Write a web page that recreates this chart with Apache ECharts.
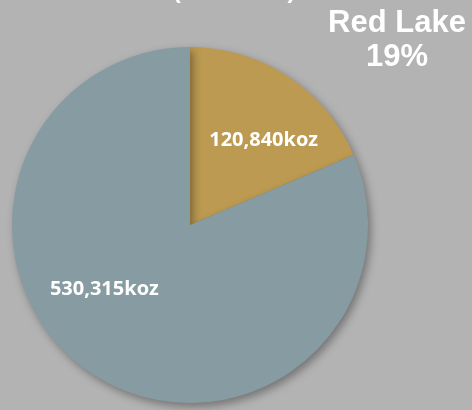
<!DOCTYPE html>
<html>
<head>
<meta charset="utf-8">
<style>
html,body{margin:0;padding:0;background:#b3b3b3;}
#chart{width:472px;height:410px;}
</style>
<script src="https://cdn.jsdelivr.net/npm/echarts@6/dist/echarts.min.js"></script>
</head>
<body>
<div id="chart"></div>
<script>
const categories = ['Red Lake', 'Other'];
const values = [120840, 530315];
const labelTexts = ['120,840koz', '530,315koz'];
const sliceColors = ['#bc9a51', '#879ca2'];
const titleText = '(Reserves)';
const calloutName = 'Red Lake';

const total = values.reduce((a, b) => a + b, 0);
const pct = Math.round(values[0] / total * 100) + '%';
const labelOffsets = [[23, -8], [-35, -13]];

const chart = echarts.init(document.getElementById('chart'));
chart.setOption({
  backgroundColor: '#b3b3b3',
  animation: false,
  graphic: [
    {
      type: 'text', x: 234, y: 3,
      style: { text: titleText, fill: '#fff', font: 'bold 24px "Liberation Sans", Arial', textAlign: 'center', textVerticalAlign: 'bottom' }
    },
    {
      type: 'text', x: 397, y: 6,
      style: {
        text: calloutName + '\n' + pct, fill: '#ffffff',
        font: 'bold 31px "Liberation Sans", Arial', textAlign: 'center', lineHeight: 34
      }
    }
  ],
  series: [{
    type: 'pie',
    center: [190, 225],
    radius: [0, 178],
    startAngle: 90,
    clockwise: true,
    silent: true,
    itemStyle: {
      shadowBlur: 8,
      shadowOffsetX: 3,
      shadowOffsetY: 4,
      shadowColor: 'rgba(0,0,0,0.35)'
    },
    label: {
      show: true,
      position: 'inside',
      color: '#ffffff',
      fontFamily: '"Open Sans", "Noto Sans", sans-serif',
      fontWeight: 'bold',
      fontSize: 20,
      formatter: p => labelTexts[p.dataIndex]
    },
    labelLine: { show: false },
    data: categories.map((c, i) => ({
      name: c,
      value: values[i],
      itemStyle: { color: sliceColors[i] },
      label: { offset: labelOffsets[i] }
    }))
  }]
});
</script>
</body>
</html>
